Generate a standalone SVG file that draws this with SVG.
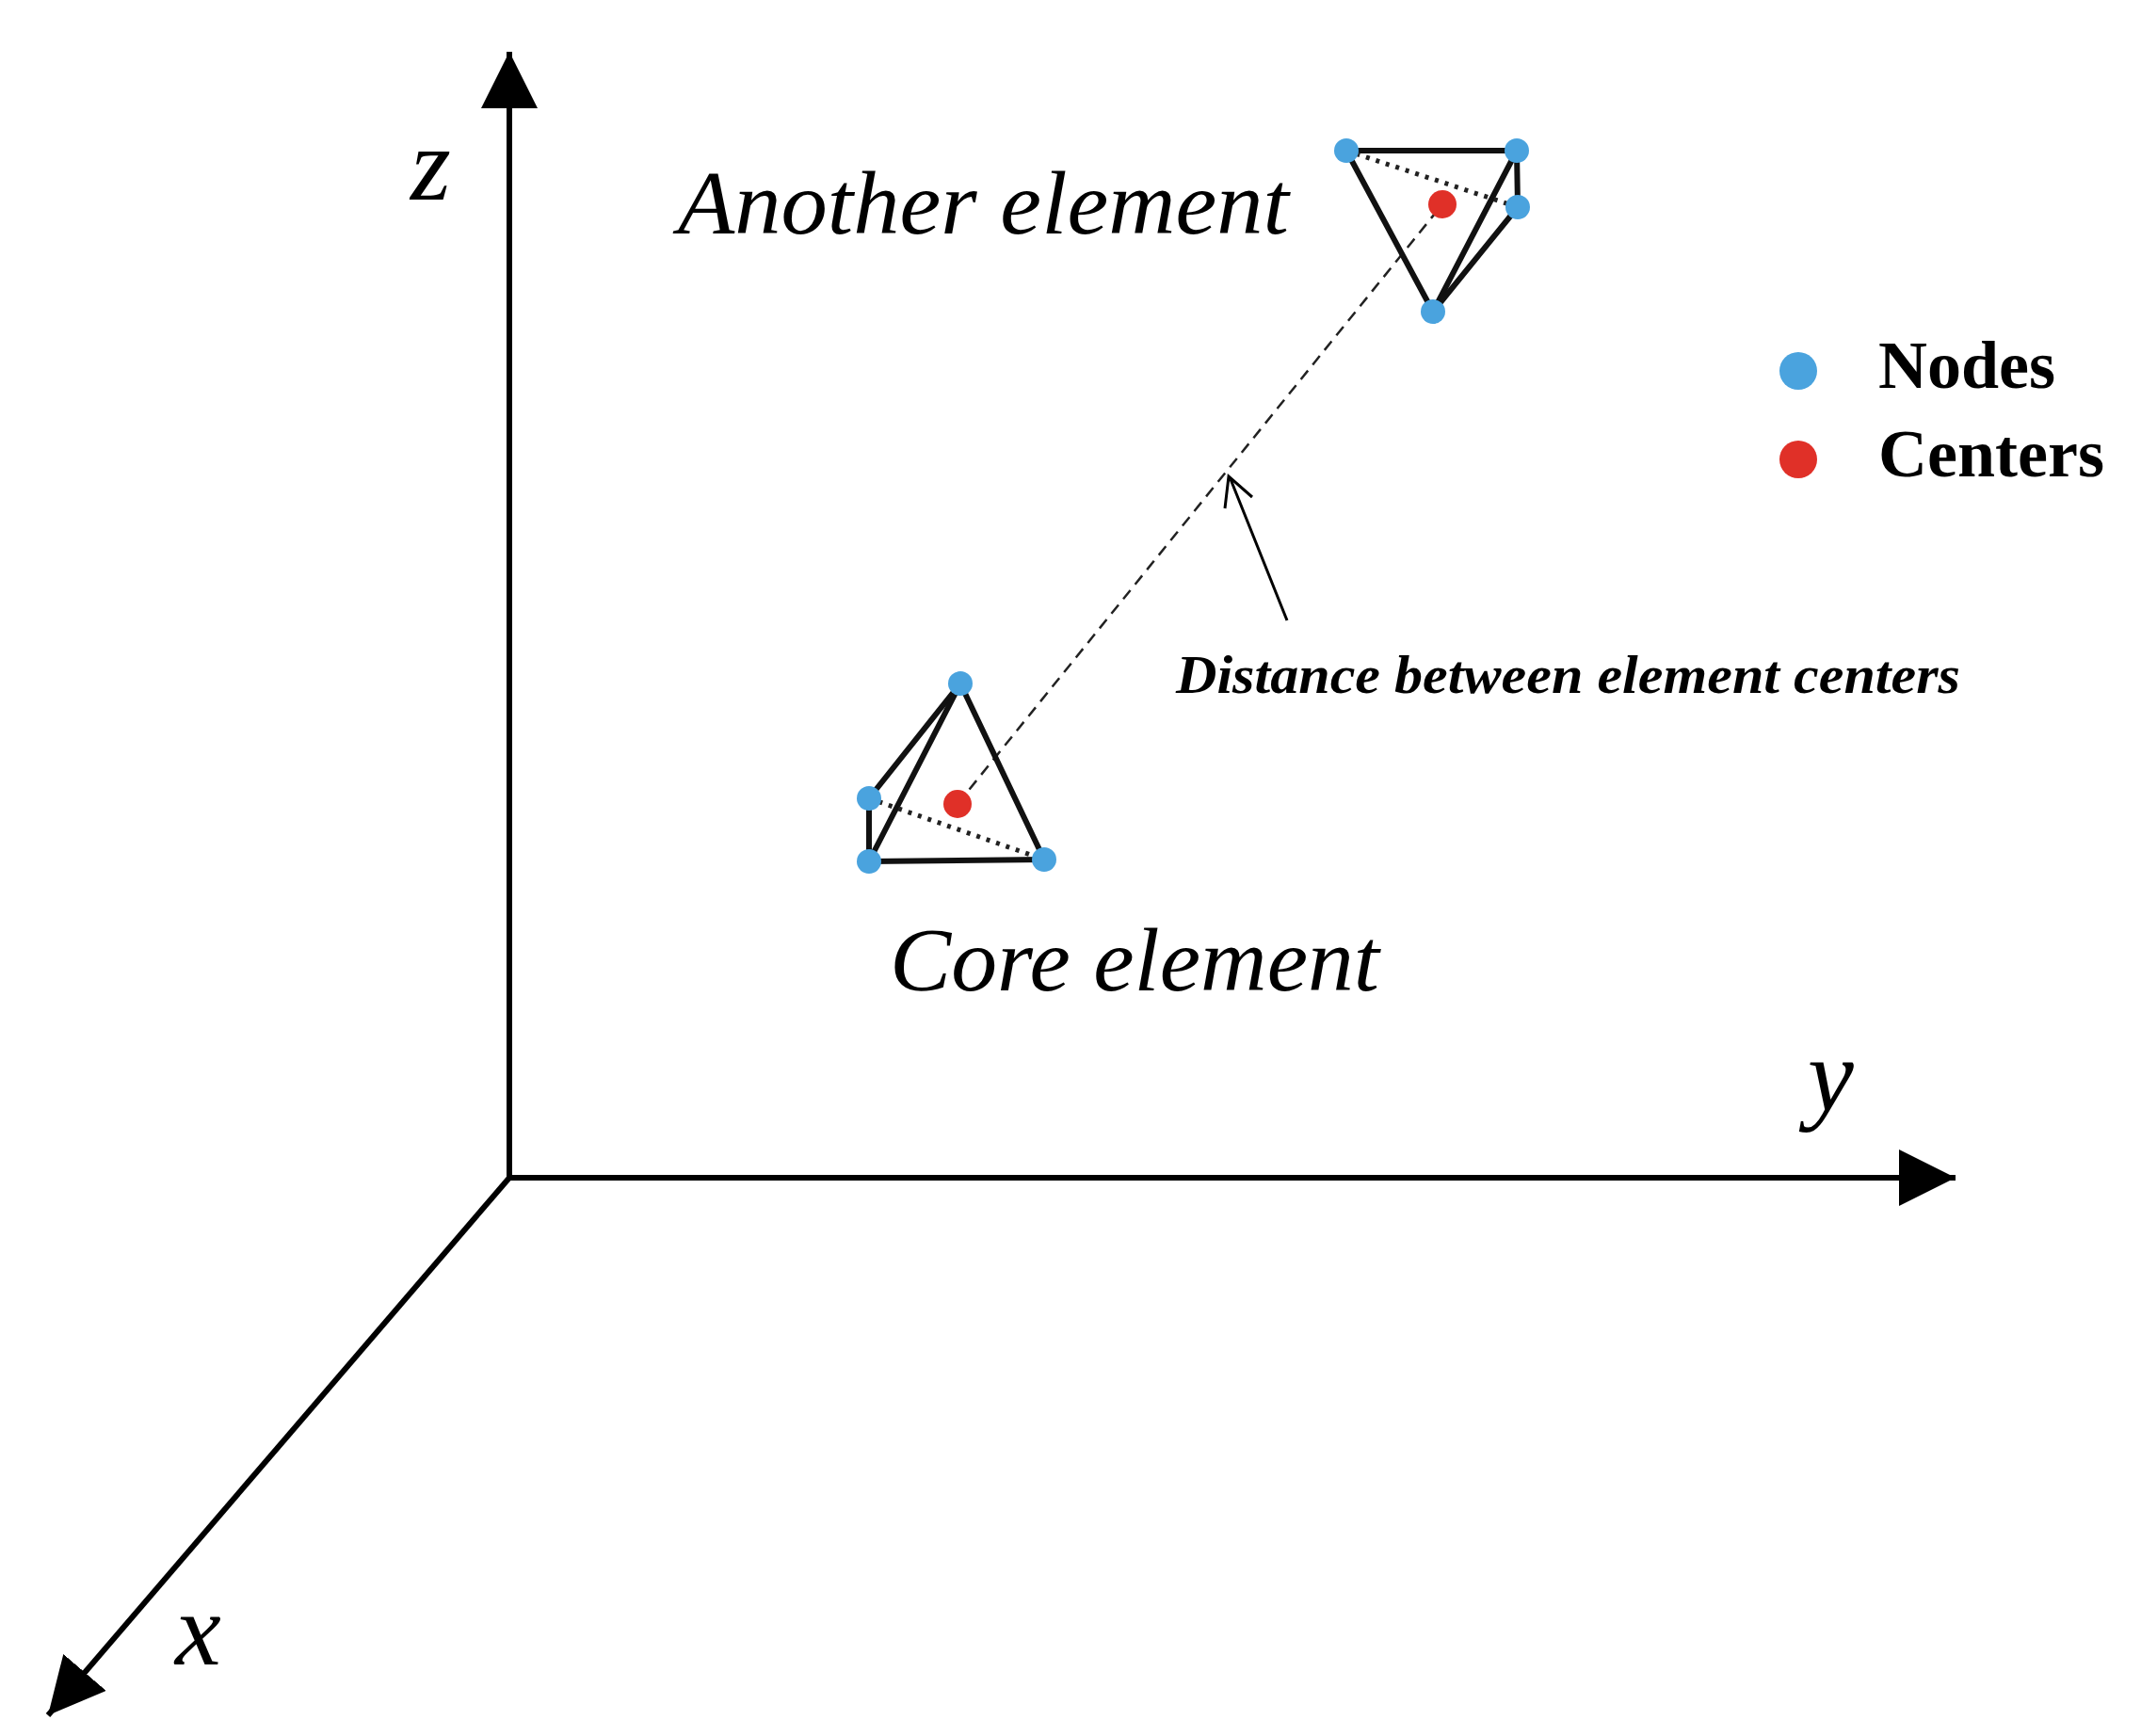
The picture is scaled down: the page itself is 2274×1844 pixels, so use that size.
<svg xmlns="http://www.w3.org/2000/svg" width="2274" height="1844" viewBox="0 0 2274 1844">
<style>
.ax{stroke:#000;stroke-width:6;fill:none}
.ed{stroke:#111;stroke-width:6;fill:none;stroke-linecap:round}
.dt{stroke:#222;stroke-width:5;fill:none;stroke-dasharray:4 7}
.nd{fill:#4aa3de}
.ct{fill:#e03028}
.lbl{font-family:"Liberation Serif",serif;font-style:italic;fill:#000}
</style>
<defs>
<marker id="big" viewBox="0 0 10 10" refX="10" refY="5" markerWidth="60" markerHeight="60" markerUnits="userSpaceOnUse" orient="auto"><path d="M0,0L10,5L0,10z" fill="#000"/></marker>
</defs>
<rect width="2274" height="1844" fill="#fff"/>
<g id="axes">
<line class="ax" x1="541" y1="1251" x2="541" y2="55" marker-end="url(#big)"/>
<line class="ax" x1="538" y1="1251" x2="2077" y2="1251" marker-end="url(#big)"/>
<line class="ax" x1="541" y1="1251" x2="51" y2="1822" marker-end="url(#big)"/>
<text class="lbl" x="436" y="212" font-size="110">z</text>
<text class="lbl" x="1920" y="1180" font-size="110">y</text>
<text class="lbl" x="186" y="1768" font-size="110">x</text>
</g>
<g id="connectors">
<line x1="1017" y1="854" x2="1532" y2="217" stroke="#222" stroke-width="2.5" stroke-dasharray="12 8"/>
<line x1="1367" y1="659" x2="1307" y2="509" stroke="#000" stroke-width="3"/>
<path d="M1301,540 L1305,506 L1330,528" stroke="#000" stroke-width="3" fill="none"/>
<text x="1249" y="736" font-family="'Liberation Serif',serif" font-style="italic" font-weight="bold" font-size="56" textLength="833" lengthAdjust="spacingAndGlyphs">Distance between element centers</text>
</g>
<g id="core">
<line class="ed" x1="1020" y1="726" x2="923" y2="848"/>
<line class="ed" x1="1020" y1="726" x2="923" y2="915"/>
<line class="ed" x1="1020" y1="726" x2="1109" y2="913"/>
<line class="ed" x1="923" y1="848" x2="923" y2="915"/>
<line class="ed" x1="923" y1="915" x2="1109" y2="913"/>
<line class="dt" x1="923" y1="848" x2="1109" y2="913"/>
<circle class="ct" cx="1017" cy="854" r="15"/>
<circle class="nd" cx="1020" cy="726" r="13"/>
<circle class="nd" cx="923" cy="848" r="13"/>
<circle class="nd" cx="923" cy="915" r="13"/>
<circle class="nd" cx="1109" cy="913" r="13"/>
<text class="lbl" x="945" y="1052" font-size="96" textLength="520" lengthAdjust="spacingAndGlyphs">Core element</text>
</g>
<g id="another">
<line class="ed" x1="1430" y1="160" x2="1611" y2="160"/>
<line class="ed" x1="1430" y1="160" x2="1522" y2="331"/>
<line class="ed" x1="1611" y1="160" x2="1522" y2="331"/>
<line class="ed" x1="1611" y1="160" x2="1612" y2="220"/>
<line class="ed" x1="1612" y1="220" x2="1522" y2="331"/>
<line class="dt" x1="1430" y1="160" x2="1612" y2="220"/>
<circle class="ct" cx="1532" cy="217" r="15"/>
<circle class="nd" cx="1430" cy="160" r="13"/>
<circle class="nd" cx="1611" cy="160" r="13"/>
<circle class="nd" cx="1612" cy="220" r="13"/>
<circle class="nd" cx="1522" cy="331" r="13"/>
<text class="lbl" x="720" y="248" font-size="96" textLength="649" lengthAdjust="spacingAndGlyphs">Another element</text>
</g>
<g id="legend">
<circle class="nd" cx="1910" cy="394" r="20"/>
<circle class="ct" cx="1910" cy="488" r="20"/>
<text x="1995" y="412" font-family="'Liberation Serif',serif" font-weight="bold" font-size="72">Nodes</text>
<text x="1995" y="506" font-family="'Liberation Serif',serif" font-weight="bold" font-size="72">Centers</text>
</g>
</svg>
